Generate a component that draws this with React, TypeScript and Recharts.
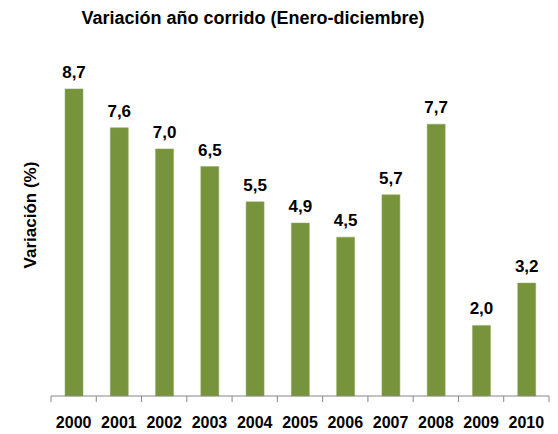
import React from 'react';
import { BarChart, Bar, XAxis, YAxis, LabelList } from 'recharts';

const years = ['2000', '2001', '2002', '2003', '2004', '2005', '2006', '2007', '2008', '2009', '2010'];
const variacion = [8.7, 7.6, 7.0, 6.5, 5.5, 4.9, 4.5, 5.7, 7.7, 2.0, 3.2];

const data = years.map((y, i) => ({ year: y, value: variacion[i] }));

const W = 558;
const H = 434;
const M = { top: 43, right: 9, left: 0, bottom: 0 };
const Y_W = 51;
const BAND = (W - M.left - M.right - Y_W) / years.length;
const AXIS_COLOR = '#868686';
const FONT = 'Liberation Sans, Arial, sans-serif';

const Tick = (props: any) => {
  const { x, y, payload, index } = props;
  const half = BAND / 2;
  const last = index === years.length - 1;
  return (
    <g>
      <line x1={x - half} y1={y - 8} x2={x - half} y2={y - 2} stroke={AXIS_COLOR} strokeWidth={1} />
      {last && <line x1={x + half} y1={y - 8} x2={x + half} y2={y - 2} stroke={AXIS_COLOR} strokeWidth={1} />}
      <text x={x} y={y + 24} textAnchor="middle" fontFamily={FONT} fontWeight="bold" fontSize={16} fill="#000">
        {payload.value}
      </text>
    </g>
  );
};

const fmt = (v: any) => Number(v).toFixed(1).replace('.', ',');

export default function App() {
  return (
    <div style={{ position: 'absolute', left: 0, top: 0, width: W, height: H, background: '#fff' }}>
      <BarChart width={W} height={H} data={data} margin={M} barSize={18}>
        <text x={253} y={24} textAnchor="middle" fontFamily={FONT} fontWeight="bold" fontSize={18} fill="#000">
          Variación año corrido (Enero-diciembre)
        </text>
        <text
          x={0}
          y={0}
          transform="translate(30,215) rotate(-90)"
          textAnchor="middle"
          dominantBaseline="central"
          fontFamily={FONT}
          fontWeight="bold"
          fontSize={17}
          fill="#000"
        >
          Variación (%)
        </text>
        <YAxis width={Y_W} domain={[0, 10]} tick={false} axisLine={false} tickLine={false} />
        <XAxis
          dataKey="year"
          height={H - 396}
          axisLine={{ stroke: AXIS_COLOR, strokeWidth: 1 }}
          tickLine={false}
          tick={<Tick />}
          interval={0}
        />
        <Bar dataKey="value" fill="#77933C" stroke="#8FAA57" strokeWidth={0.5} isAnimationActive={false}>
          <LabelList
            dataKey="value"
            position="top"
            offset={11}
            formatter={fmt}
            style={{ fontFamily: FONT, fontWeight: 'bold', fontSize: 17, fill: '#000' }}
          />
        </Bar>
      </BarChart>
    </div>
  );
}
